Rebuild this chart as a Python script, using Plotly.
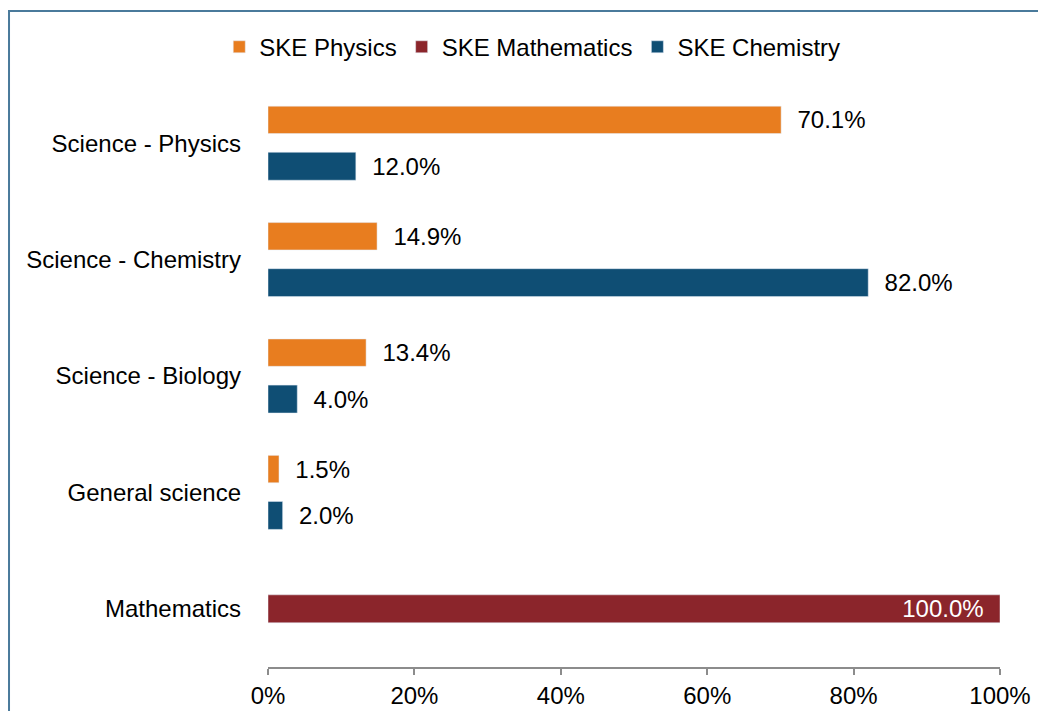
import plotly.graph_objects as go

categories = ["Science - Physics", "Science - Chemistry", "Science - Biology",
              "General science", "Mathematics"]
ske_physics = [70.1, 14.9, 13.4, 1.5, None]
ske_chemistry = [12.0, 82.0, 4.0, 2.0, None]
ske_mathematics = [None, None, None, None, 100.0]
x_ticks = [0, 20, 40, 60, 80, 100]
x_tick_labels = [f"{v}%" for v in x_ticks]

ORANGE = "#E87D1F"
BLUE = "#0F4E74"
RED = "#8B252B"
FONT = "Liberation Sans, Arial, sans-serif"
NB = "\u00a0"

fig = go.Figure()
fig.add_trace(go.Bar(
    name="SKE Physics", y=categories, x=ske_physics, orientation="h",
    marker=dict(color=ORANGE), width=0.235, offset=-0.318,
    texttemplate=NB * 2 + "%{x:.1f}%", textposition="outside", constraintext="none",
    textfont=dict(size=24, color="#000000", family=FONT), cliponaxis=False,
))
fig.add_trace(go.Bar(
    name="SKE Mathematics", y=categories, x=ske_mathematics, orientation="h",
    marker=dict(color=RED), width=0.24, offset=-0.12,
    texttemplate="%{x:.1f}%" + NB * 2, textposition="inside", insidetextanchor="end",
    constraintext="none",
    textfont=dict(size=24, color="#FFFFFF", family=FONT), cliponaxis=False,
))
fig.add_trace(go.Bar(
    name="SKE Chemistry", y=categories, x=ske_chemistry, orientation="h",
    marker=dict(color=BLUE), width=0.24, offset=0.078,
    texttemplate=NB * 2 + "%{x:.1f}%", textposition="outside", constraintext="none",
    textfont=dict(size=24, color="#000000", family=FONT), cliponaxis=False,
))

# The page body has an 8px margin, so the figure is 8px smaller than the window
fig.update_layout(
    width=1038, height=703,
    margin=dict(l=260, r=46, t=77, b=44),
    paper_bgcolor="white", plot_bgcolor="white",
    barmode="overlay",
    font=dict(family=FONT, size=24, color="#000000"),
    showlegend=True,
    legend=dict(orientation="h", x=0.361, xanchor="center", y=1.065, yanchor="middle",
                font=dict(size=24, family=FONT, color="#000000"),
                traceorder="normal", bgcolor="rgba(0,0,0,0)"),
    xaxis=dict(range=[0, 100], tickmode="array", tickvals=x_ticks, ticktext=x_tick_labels,
               showgrid=False, zeroline=False, showline=True, linecolor="#8C8C8C",
               linewidth=1.5, ticks="outside", ticklen=6, tickcolor="#8C8C8C",
               tickwidth=1.5, tickfont=dict(size=24), ticklabelstandoff=0,
               automargin=False),
    yaxis=dict(type="category", range=[4.5, -0.5], showgrid=False, zeroline=False,
               showline=False, ticks="", tickfont=dict(size=24), ticklabelstandoff=26,
               automargin=False),
    shapes=[dict(type="rect", xref="paper", yref="paper",
                 x0=-0.3538, x1=1.3, y0=-0.3, y1=1.127,
                 line=dict(color="#4A7A9B", width=2), fillcolor="rgba(0,0,0,0)",
                 layer="below")],
)

fig.write_html("out.html")
